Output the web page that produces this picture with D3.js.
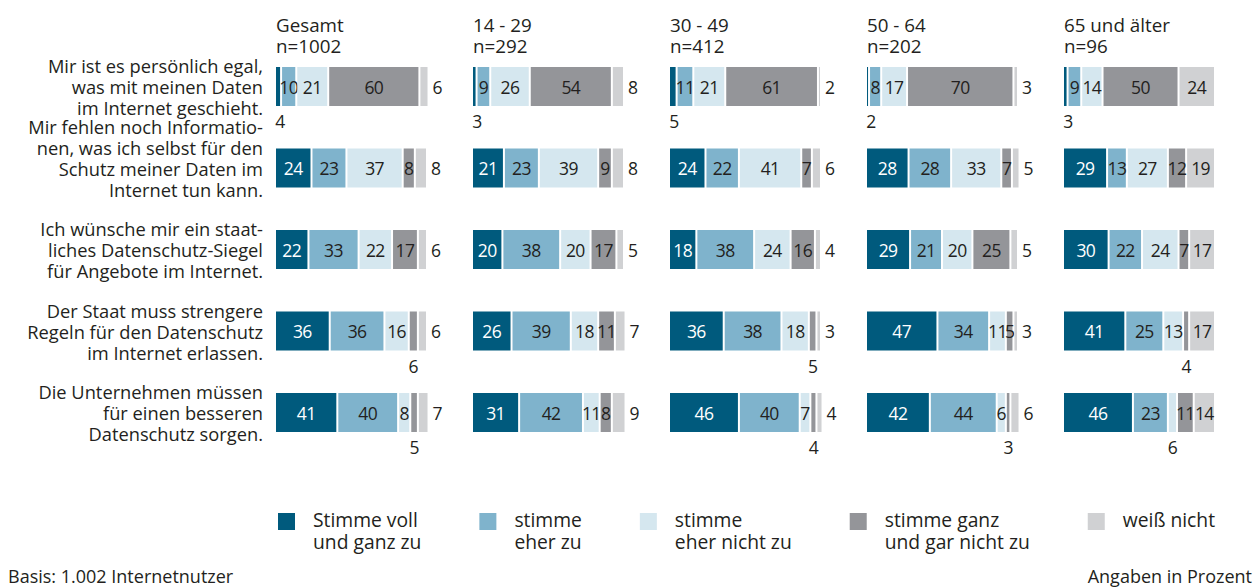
<!DOCTYPE html>
<html>
<head>
<meta charset="utf-8">
<script src="https://cdn.jsdelivr.net/npm/d3@7"></script>
<style>
  html, body { margin: 0; padding: 0; background: #fff; }
  svg { display: block; font-family: "Open Sans", sans-serif; }
</style>
</head>
<body>
<svg id="chart" width="1258" height="588"></svg>
<script>
// ---------- data ----------
const groups = ["Gesamt", "14 - 29", "30 - 49", "50 - 64", "65 und älter"];
const sampleSizes = ["n=1002", "n=292", "n=412", "n=202", "n=96"];

const statements = [
  ["Mir ist es persönlich egal,", "was mit meinen Daten", "im Internet geschieht."],
  ["Mir fehlen noch Informatio-", "nen, was ich selbst für den", "Schutz meiner Daten im", "Internet tun kann."],
  ["Ich wünsche mir ein staat-", "liches Datenschutz-Siegel", "für Angebote im Internet."],
  ["Der Staat muss strengere", "Regeln für den Datenschutz", "im Internet erlassen."],
  ["Die Unternehmen müssen", "für einen besseren", "Datenschutz sorgen."]
];

const categories = [
  ["Stimme voll", "und ganz zu"],
  ["stimme", "eher zu"],
  ["stimme", "eher nicht zu"],
  ["stimme ganz", "und gar nicht zu"],
  ["weiß nicht"]
];

// values: [statement][category]
const gesamt   = [[4,10,21,60,6],[24,23,37,8,8],[22,33,22,17,6],[36,36,16,6,6],[41,40,8,5,7]];
const age14_29 = [[3,9,26,54,8],[21,23,39,9,8],[20,38,20,17,5],[26,39,18,11,7],[31,42,11,8,9]];
const age30_49 = [[5,11,21,61,2],[24,22,41,7,6],[18,38,24,16,4],[36,38,18,5,3],[46,40,7,4,4]];
const age50_64 = [[2,8,17,70,3],[28,28,33,7,5],[29,21,20,25,5],[47,34,11,5,3],[42,44,6,3,6]];
const age65    = [[3,9,14,50,24],[29,13,27,12,19],[30,22,24,7,17],[41,25,13,4,17],[46,23,6,11,14]];
const groupValues = [gesamt, age14_29, age30_49, age50_64, age65];

const colors = ["#005a7d", "#7fb3cc", "#d5e7ef", "#949599", "#d0d1d3"];

// label placement exceptions ("group|statement|category" -> mode)
const labelOverrides = { "50 - 64|3|3": "inside", "65 und älter|4|2": "below" };

// ---------- layout ----------
const svg = d3.select("#chart");
const textColor = "#231f20";

const panelX = d3.scaleBand().domain(groups).range([276, 276 + 5 * 197]);
const rowY = d3.scaleBand().domain(d3.range(statements.length)).range([67, 67 + 5 * 81.5]);
const barH = 39;
const w = d3.scaleLinear().domain([0, 100]).range([0, 152]);

function placement(g, r, c, v) {
  const key = g + "|" + r + "|" + c;
  if (labelOverrides[key]) return labelOverrides[key];
  if (c === 0) return v < 10 ? "below" : "inside";
  if (c === 3) return v <= 6 ? "below" : "inside";
  if (c === 4) return v < 10 ? "right" : "inside";
  return "inside";
}

// headers
groups.forEach((g, gi) => {
  const x0 = panelX(g);
  const t = svg.append("text").attr("font-size", 18.8).attr("fill", textColor);
  t.append("tspan").attr("x", x0).attr("y", 32).text(g);
  t.append("tspan").attr("x", x0).attr("y", 53).text(sampleSizes[gi]);
});

// row labels (bottom-aligned to the bar)
const lineH = 21;
statements.forEach((lines, ri) => {
  const lastBase = rowY(ri) + barH + 9;
  const t = svg.append("text").attr("text-anchor", "end").attr("font-size", 18.3)
    .attr("fill", textColor);
  const y0 = lastBase - (lines.length - 1) * lineH;
  lines.forEach((ln, li) => {
    t.append("tspan").attr("x", 263).attr("y", y0 + li * lineH).text(ln);
  });
});

// bars
groups.forEach((g, gi) => {
  const x0 = panelX(g);
  const panel = svg.append("g").attr("transform", `translate(${x0},0)`);
  groupValues[gi].forEach((row, ri) => {
    const y = rowY(ri);
    let cum = 0;
    row.forEach((v, ci) => {
      const xs = w(cum), xe = w(cum + v);
      cum += v;
      panel.append("rect")
        .attr("x", xs).attr("y", y)
        .attr("width", Math.max(0.8, xe - xs - 2)).attr("height", barH)
        .attr("fill", colors[ci]);
      const mode = placement(g, ri, ci, v);
      const lbl = panel.append("text").attr("font-size", 17.5)
        .attr("letter-spacing", -0.6).text(v);
      const mid = (xs + xe - 2) / 2;
      if (mode === "inside") {
        lbl.attr("x", mid).attr("y", y + barH / 2 + 7).attr("text-anchor", "middle")
          .attr("fill", ci === 0 ? "#fff" : textColor);
      } else if (mode === "below") {
        lbl.attr("x", Math.max(mid, 4)).attr("y", y + barH + 22).attr("text-anchor", "middle")
          .attr("fill", textColor);
      } else {
        lbl.attr("x", xe + 3).attr("y", y + barH / 2 + 7).attr("text-anchor", "start")
          .attr("fill", textColor);
      }
    });
  });
});

// legend (flow layout)
let lx = 278;
const legend = svg.append("g");
categories.forEach((lines, ci) => {
  legend.append("rect").attr("x", lx).attr("y", 513).attr("width", 17).attr("height", 17)
    .attr("fill", colors[ci]);
  const t = legend.append("text").attr("font-size", 19.3).attr("fill", textColor);
  lines.forEach((ln, li) => {
    t.append("tspan").attr("x", lx + 35).attr("y", 527 + li * 22).text(ln);
  });
  const tw = t.node().getBBox().width;
  lx += 35 + tw + 58;
});

// footer
svg.append("text").attr("x", 8).attr("y", 583).attr("font-size", 18)
  .attr("fill", textColor).text("Basis: 1.002 Internetnutzer");
svg.append("text").attr("x", 1252).attr("y", 583).attr("font-size", 18)
  .attr("text-anchor", "end").attr("fill", textColor).text("Angaben in Prozent");
</script>
</body>
</html>
